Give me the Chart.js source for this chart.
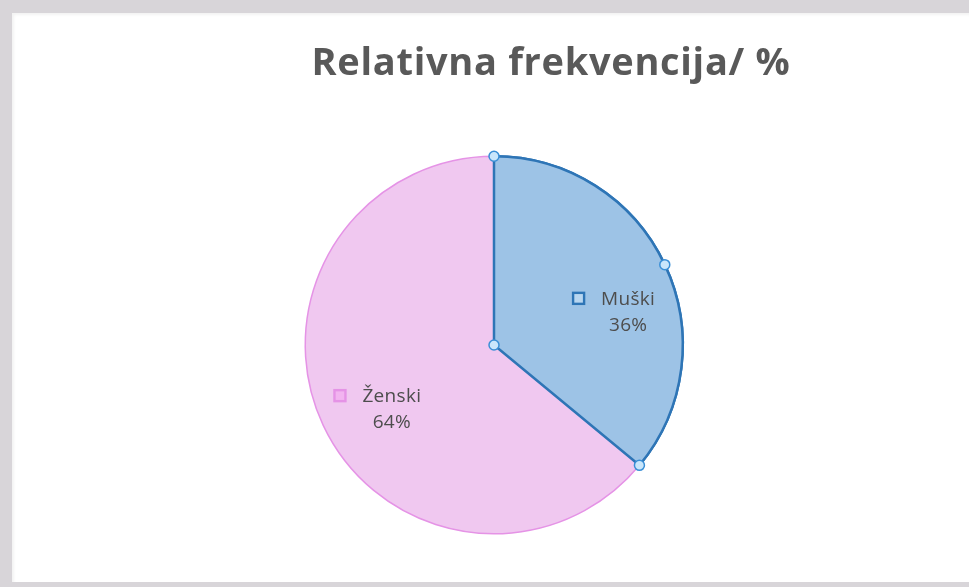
<!DOCTYPE html>
<html><head><meta charset="utf-8">
<script src="https://cdn.jsdelivr.net/npm/chart.js@4"></script>
<style>
html,body{margin:0;padding:0;width:969px;height:587px;overflow:hidden;background:#d8d5d9;}
#panel{position:absolute;left:12px;top:13px;width:957px;height:569px;background:#fff;box-shadow:inset 2px 2px 3px rgba(0,0,0,0.05);}
canvas{display:block;}
</style></head><body>
<div id="panel"><canvas id="c" width="957" height="569"></canvas></div>
<script>
const TITLE = 'Relativna frekvencija/ %';
const categories = ['Muški', 'Ženski'];
const values = [36, 64];
const fills = ['#9dc3e6', '#f0c8f0'];
const borders = ['#2e75b6', '#e593e6'];
const markerFills = ['#b8d6f0', '#f2b4f0'];
const borderWidths = [2.5, 1.5];
const labelShift = [[4, 20], [0, 8]];

const labelPlugin = {
  id: 'pieLabels',
  afterDatasetsDraw(chart) {
    const meta = chart.getDatasetMeta(0);
    meta.data[0].draw(chart.ctx);
  },
  afterDraw(chart) {
    const ctx = chart.ctx;
    const meta = chart.getDatasetMeta(0);
    const total = values.reduce((a, b) => a + b, 0);
    const ca = chart.chartArea;
    ctx.save();
    ctx.font = 'bold 38px "Open Sans", "Noto Sans", sans-serif';
    ctx.letterSpacing = '0.7px';
    ctx.fillStyle = '#595959';
    ctx.textAlign = 'center';
    ctx.textBaseline = 'alphabetic';
    ctx.fillText(TITLE, (ca.left + ca.right) / 2 + 57, 62);
    ctx.restore();

    meta.data.forEach((arc, i) => {
      const p = arc.getProps(['x', 'y', 'startAngle', 'endAngle', 'outerRadius'], true);
      const mid = (p.startAngle + p.endAngle) / 2;
      const f = 0.68;
      const cx = p.x + Math.cos(mid) * p.outerRadius * f + labelShift[i][0];
      const cy = p.y + Math.sin(mid) * p.outerRadius * f + labelShift[i][1];
      ctx.save();
      ctx.font = '19px "Open Sans", "Noto Sans", sans-serif';
      ctx.letterSpacing = '0.3px';
      ctx.textBaseline = 'middle';
      const name = categories[i];
      const tw = ctx.measureText(name).width;
      const gap = 17, ms = 11;
      const blockW = ms + gap + tw;
      const x0 = cx - blockW / 2;
      const nameY = cy - 12;
      ctx.fillStyle = markerFills[i];
      ctx.strokeStyle = borders[i];
      ctx.lineWidth = 2.4;
      ctx.fillRect(x0, nameY - ms / 2, ms, ms);
      ctx.strokeRect(x0, nameY - ms / 2, ms, ms);
      ctx.fillStyle = '#4d4d4d';
      ctx.textAlign = 'left';
      ctx.fillText(name, x0 + ms + gap, nameY + 1);
      ctx.textAlign = 'center';
      const pct = Math.round(values[i] / total * 100) + '%';
      ctx.fillText(pct, x0 + ms + gap + tw / 2, cy + 15);
      ctx.restore();
    });

    const a = meta.data[0].getProps(['x', 'y', 'startAngle', 'endAngle', 'outerRadius'], true);
    const angs = [a.startAngle, (a.startAngle + a.endAngle) / 2, a.endAngle];
    const pts = [[a.x, a.y]].concat(angs.map(t => [a.x + Math.cos(t) * a.outerRadius, a.y + Math.sin(t) * a.outerRadius]));
    ctx.save();
    pts.forEach(([x, y]) => {
      ctx.beginPath();
      ctx.arc(x, y, 5, 0, Math.PI * 2);
      ctx.fillStyle = '#c9e6fb';
      ctx.fill();
      ctx.lineWidth = 1.5;
      ctx.strokeStyle = '#3a8fd6';
      ctx.stroke();
    });
    ctx.restore();
  }
};

new Chart(document.getElementById('c'), {
  type: 'pie',
  data: {
    labels: categories,
    datasets: [{
      data: values,
      backgroundColor: fills,
      borderColor: borders,
      borderWidth: borderWidths
    }]
  },
  options: {
    responsive: false,
    animation: false,
    events: [],
    layout: { padding: { top: 142, bottom: 47, left: 100, right: 93 } },
    plugins: {
      legend: { display: false },
      title: { display: false },
      tooltip: { enabled: false }
    }
  },
  plugins: [labelPlugin]
});
</script>
</body></html>
